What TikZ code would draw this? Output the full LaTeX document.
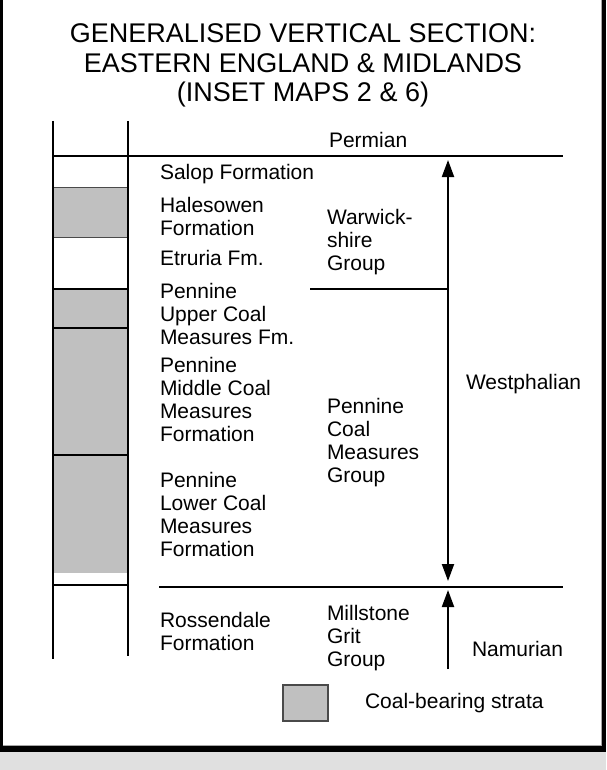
\documentclass[tikz,border=0pt]{standalone}
\usepackage{fontspec}
\setmainfont{Liberation Sans}
\usetikzlibrary{arrows.meta}
\definecolor{coal}{HTML}{C0C0C0}
\definecolor{band}{HTML}{E0E0E0}
\definecolor{edge}{HTML}{4A4A4A}
\begin{document}
\begin{tikzpicture}[x=1pt,y=-1pt,line width=2pt,
  every node/.style={inner sep=0pt,outer sep=0pt},
  % multi-line labels are placed by the baseline of their last line
  lbl/.style={anchor=base west,align=left,font=\fontsize{21}{23}\selectfont},
  ttl/.style={anchor=base,font=\fontsize{27}{30}\selectfont},
  >={Triangle[length=17pt,width=12pt]},
  rule/.style={line width=2pt,black}]
\useasboundingbox (0,0) rectangle (606,770);

% page frame with its shadow band
\fill[band] (0,752) rectangle (606,770);
\fill[black] (0,0) rectangle (2.5,752);
\fill[black] (602,0) rectangle (606,752);
\fill[black] (0,746) rectangle (606,752);
\draw[line width=0.8pt,black!35] (2.5,745.2) -- (601.6,745.2) -- (601.6,0);

% heading
\node[ttl] (t1) at (303,42.5) {GENERALISED VERTICAL SECTION:};
\node[ttl] (t2) at (303,72.5) {EASTERN ENGLAND \& MIDLANDS};
\node[ttl] (t3) at (303,102) {(INSET MAPS 2 \& 6)};

% coal-bearing intervals in the column
\draw[fill=coal,draw=edge,line width=1pt] (53,187) rectangle (128,237);
\fill[coal] (53,289) rectangle (128,573);

% column sides
\coordinate (cl0) at (53,121);  \coordinate (cl1) at (53,659);
\coordinate (cr0) at (128,121); \coordinate (cr1) at (128,656);
\draw[rule] (cl0) -- (cl1);
\draw[rule] (cr0) -- (cr1);

% boundaries
\coordinate (p0) at (53,156);  \coordinate (p1) at (563,156);
\draw[rule] (p0) -- (p1);
\draw[rule] (53,289) -- (128,289);
\draw[rule] (53,328) -- (128,328);
\draw[rule] (53,455) -- (128,455);
\draw[rule] (53,585) -- (128,585);
\coordinate (n0) at (159,587); \coordinate (n1) at (563,587);
\draw[rule] (n0) -- (n1);
\coordinate (g0) at (310,289); \coordinate (g1) at (448,289);
\draw[rule] (g0) -- (g1);

% stage arrows
\coordinate (wtop) at (448,160); \coordinate (wbot) at (448,581);
\draw[rule,<->] (wtop) -- (wbot);
\coordinate (nbot) at (448,669); \coordinate (ntop) at (448,590);
\draw[rule,->] (nbot) -- (ntop);

% formations
\node[lbl] (perm) at (329,148) {Permian};
\node[lbl] (salop) at (160,179.5) {Salop Formation};
\node[lbl] (hale) at (160,235.5) {Halesowen\\Formation};
\node[lbl] (etru) at (160,265.5) {Etruria Fm.};
\node[lbl] (pucm) at (160,344.5) {Pennine\\Upper Coal\\Measures Fm.};
\node[lbl] (pmcm) at (160,441.5) {Pennine\\Middle Coal\\Measures\\Formation};
\node[lbl] (plcm) at (160,556.5) {Pennine\\Lower Coal\\Measures\\Formation};
\node[lbl] (ross) at (160,650.5) {Rossendale\\Formation};

% groups
\node[lbl] (warw) at (327,270.5) {Warwick-\\shire\\Group};
\node[lbl] (pcmg) at (327,482.5) {Pennine\\Coal\\Measures\\Group};
\node[lbl] (mgg) at (327,666.5) {Millstone\\Grit\\Group};

% stages
\node[lbl] (west) at (466,389.5) {Westphalian};
\node[lbl] (namu) at (472,656.5) {Namurian};

% key
\draw[fill=coal,draw=edge,line width=1.5pt] (283,685) rectangle (328,721);
\node[lbl] (key) at (365,708.5) {Coal-bearing strata};
\end{tikzpicture}
\end{document}
